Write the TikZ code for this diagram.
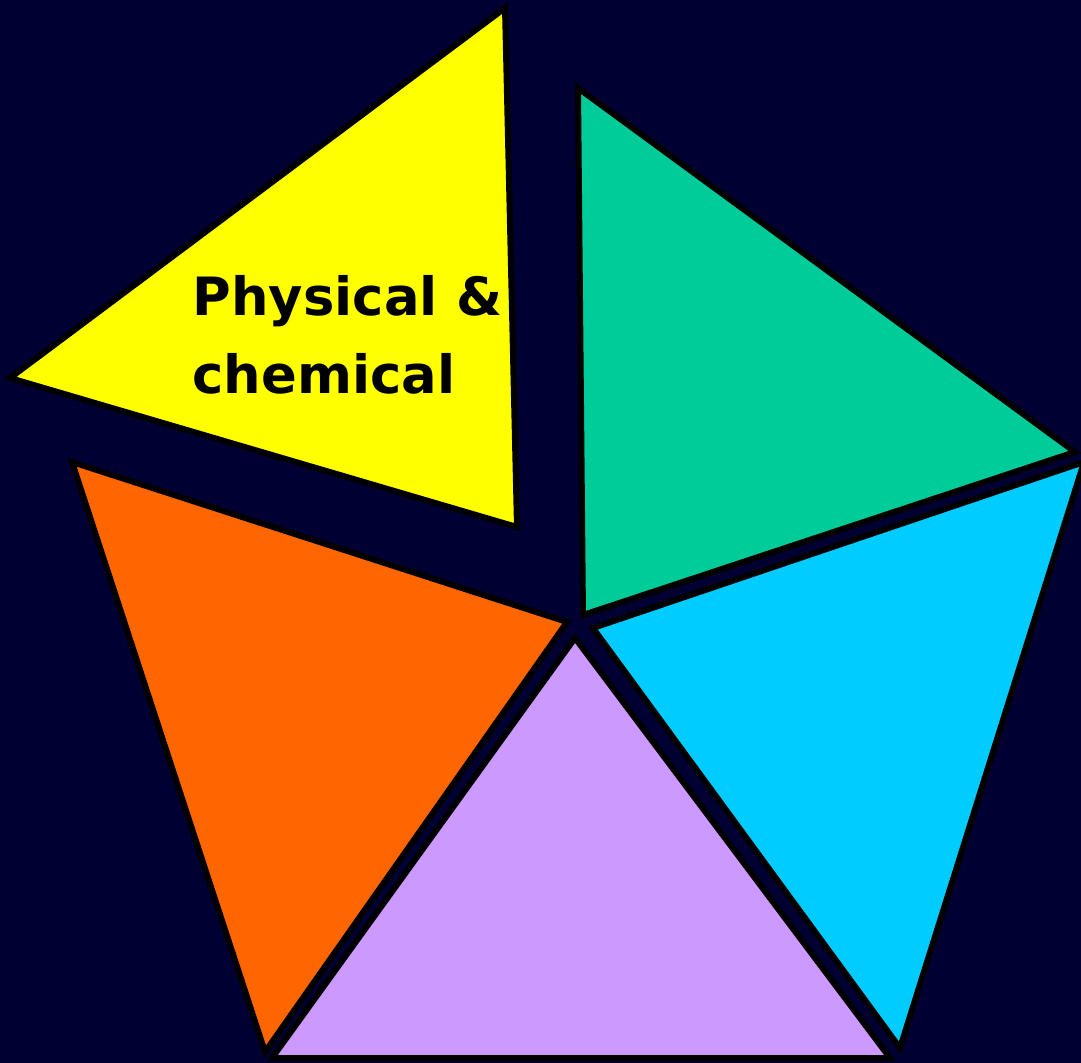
\documentclass[tikz,border=0pt]{standalone}
\usepackage{fontspec}
\setmainfont{DejaVu Sans}
\usepackage{xcolor}
\usepackage{tikz}
\usetikzlibrary{calc}

\definecolor{bgnavy}{HTML}{000033}
\definecolor{piyellow}{HTML}{FFFF00}
\definecolor{pigreen}{HTML}{00CC99}
\definecolor{picyan}{HTML}{00CCFF}
\definecolor{pipurple}{HTML}{CC99FF}
\definecolor{piorange}{HTML}{FF6600}

\tikzset{
  piece/.style={draw=black, line width=1.7pt, line join=miter},
  label/.style={font=\bfseries\fontsize{15}{22}\selectfont, align=left, anchor=north west, inner sep=0pt}
}

\begin{document}
\begin{tikzpicture}[x=0.01cm, y=-0.01cm]
  % background
  \fill[bgnavy] (0,0) rectangle (1081,1063);
  \useasboundingbox (0,0) rectangle (1081,1063);

  % the five pieces
  \foreach \col/\a/\b/\c in {
      piyellow/{505,8}/{10,378}/{517,527},
      pigreen/{578,88}/{1075,452}/{583,615},
      picyan/{1084,462}/{593,628}/{900,1048},
      pipurple/{575,638}/{272,1058}/{890,1058},
      piorange/{72,462}/{567,622}/{265,1052}} {
    \filldraw[piece, fill=\col] (\a) -- (\b) -- (\c) -- cycle;
  }

  % text
  \node[label] (physlabel) at (192,275) {Physical \&\\chemical};
\end{tikzpicture}
\end{document}
